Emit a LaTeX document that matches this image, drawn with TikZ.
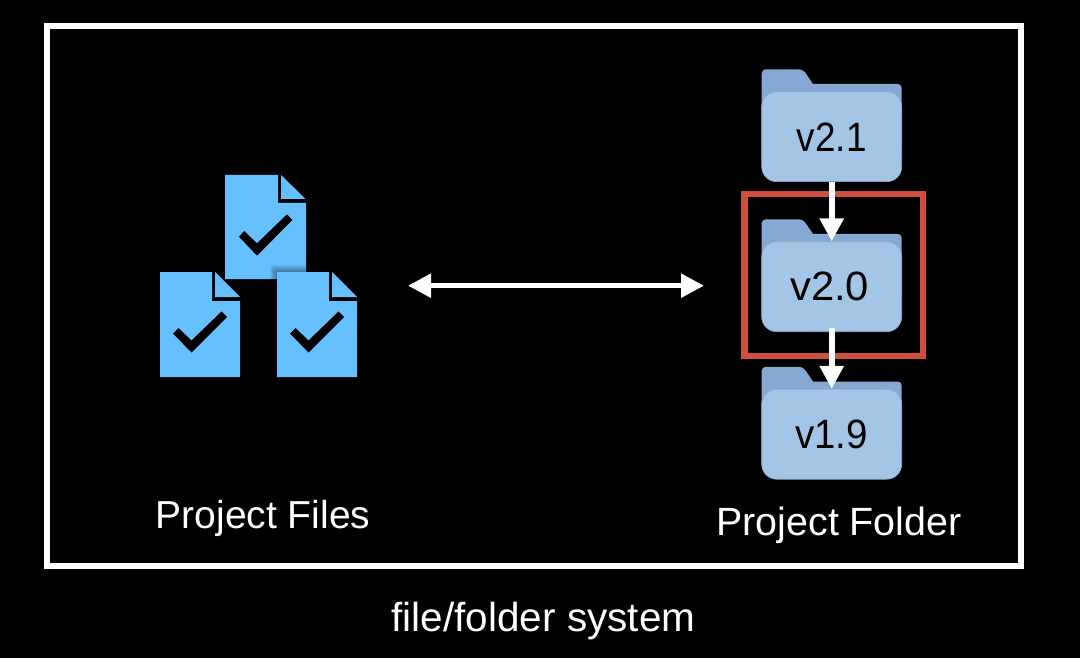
\documentclass[tikz,border=0pt]{standalone}
\usepackage{graphicx}
\usepackage{fontspec}
\setmainfont{Liberation Sans}
\usetikzlibrary{arrows.meta}
\definecolor{docblue}{HTML}{66BFFF}
\definecolor{fback}{HTML}{86A9D4}
\definecolor{ffront}{HTML}{A3C6E6}
\definecolor{fedge}{HTML}{8AA9CC}
\definecolor{redbox}{HTML}{CF4F3F}
\tikzset{
  frontbody/.style={draw=fedge,line width=0.6pt,fill=ffront,rounded corners=15pt,minimum width=140pt,minimum height=90pt,inner sep=0pt,font=\fontsize{41}{41}\selectfont,text=black},
  flowarrow/.style={white,line width=6pt,-{Triangle[width=23pt,length=23pt]}},
  caption/.style={white,anchor=base,inner sep=0pt},
}
\newcommand{\folderback}[1]{% top y of the tab
  \fill[fback,rounded corners=4pt] (761.7,#1+80) -- (761.7,#1) -- (803,#1) [sharp corners] -- (813,#1+14.7) [rounded corners=4pt] -- (901.7,#1+14.7) -- (901.7,#1+80) -- cycle;
}
\newcommand{\docicon}[2]{% left x, top y
  \fill[docblue] (#1,#2) -- (#1+52,#2) -- (#1+52,#2+29) -- (#1+80,#2+29) -- (#1+80,#2+105) -- (#1,#2+105) -- cycle;
  \fill[docblue] (#1+55,#2) -- (#1+80,#2+25) -- (#1+55,#2+25) -- cycle;
  \fill[black] (#1+13,#2+61.5) -- (#1+18.5,#2+56) -- (#1+31.5,#2+68.5) -- (#1+61.5,#2+39.5) -- (#1+67,#2+45) -- (#1+31.5,#2+80.5) -- cycle;
}
\begin{document}
\begin{tikzpicture}[x=1pt,y=-1pt]
\useasboundingbox (0,0) rectangle (1080,658);
\fill[black] (0,0) rectangle (1080,658);
\node[draw=white,line width=6pt,minimum width=974pt,minimum height=540pt,inner sep=0pt,outer sep=0pt] (frame) at (534,296) {};
% documents
\fill[docblue] (225,175) -- (278,175) -- (278,203) -- (306,203) -- (306,279) -- (225,279) -- cycle;
\fill[docblue] (281,175) -- (305.5,199) -- (281,199) -- cycle;
\fill[black] (239,236.7) -- (244.3,231) -- (257,243.3) -- (287,214.3) -- (292.3,220) -- (257,255.7) -- cycle;
\begin{scope}
\clip (225,175) rectangle (306,279);
\foreach \i in {1,...,7} {\fill[black,opacity=0.055,rounded corners=3pt] (277-\i,272-\i) rectangle (357,377);}
\end{scope}
\docicon{160}{272}
\docicon{277}{272}
% folders
\folderback{69.3}
\folderback{219.3}
\folderback{366.8}
\node[frontbody] (f21) at (831.7,136.7) {\raisebox{-2pt}{\scalebox{0.9}[1]{v2.1}}};
\node[frontbody] (f20) at (831.7,286.7) {\hspace*{-4pt}\scalebox{1.02}[1]{v2.0}};
\node[frontbody] (f19) at (831.7,434.2) {\scalebox{0.94}[1]{v1.9}};
\node[draw=redbox,line width=6.5pt,minimum width=178.5pt,minimum height=161.5pt,inner sep=0pt,outer sep=0pt] (sel) at (833.5,275) {};
\draw[flowarrow] (f21.south) -- (f20.north);
\draw[flowarrow,shorten <=-4pt] (f20.south) -- (f19.north);
% double arrow
\node[inner sep=0pt,minimum size=0pt,outer sep=0pt] (left) at (408,285.7) {};
\node[inner sep=0pt,minimum size=0pt,outer sep=0pt] (right) at (704,285.7) {};
\draw[white,line width=5.5pt,{Triangle[width=23pt,length=23pt]}-{Triangle[width=23pt,length=23pt]}] (left) -- (right);
% labels
\node[caption,font=\fontsize{39}{40}\selectfont] (pfiles) at (263,528.5) {Project Files};
\node[caption,font=\fontsize{39.4}{40}\selectfont] (pfolder) at (839,535.7) {Project Folder};
\node[caption,font=\fontsize{40.5}{42}\selectfont] (sys) at (543.5,631) {file/folder system};
\end{tikzpicture}
\end{document}
